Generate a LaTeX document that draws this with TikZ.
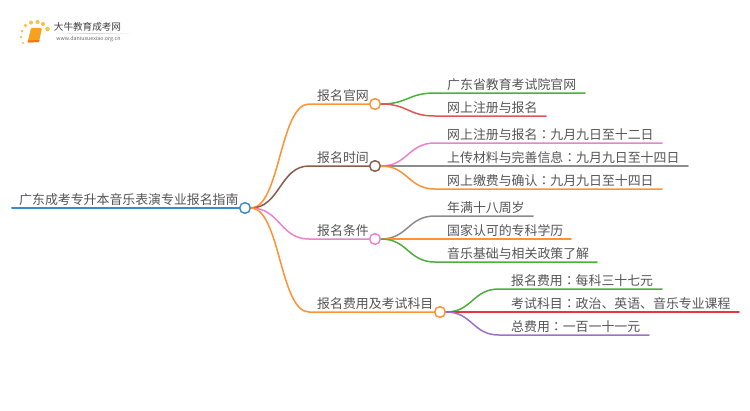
\documentclass[tikz,border=0pt]{standalone}
\usepackage{fontspec}
\setmainfont{Noto Sans CJK SC}
\newfontfamily\tcfont{Noto Sans CJK TC}
\newcommand{\cln}{{\tcfont ：}}
\usetikzlibrary{calc}
\definecolor{cblue}{HTML}{3A8BCB}
\definecolor{corange}{HTML}{FF9233}
\definecolor{cbrown}{HTML}{8D5A4E}
\definecolor{cpink}{HTML}{EB82CF}
\definecolor{cgreen}{HTML}{4CAF3E}
\definecolor{cred}{HTML}{E25555}
\definecolor{cgray}{HTML}{8C8C8C}
\definecolor{cpurple}{HTML}{A070C8}
\definecolor{crimson}{HTML}{E8343C}
\definecolor{txt}{HTML}{555555}
\definecolor{logodot}{HTML}{F9C04A}
\definecolor{logobook}{HTML}{F7A21E}
\definecolor{logoedge}{HTML}{E8791A}
\tikzset{
  lab/.style={anchor=base west,inner sep=0pt,text=txt,font=\fontsize{12.9}{13}\selectfont},
  hub/.style={circle,draw=#1,fill=white,line width=1.3pt,minimum size=10.5pt,inner sep=0pt},
  wire/.style={draw=#1,line width=1.5pt,line cap=round},
  dot/.style={circle,fill=#1,inner sep=0pt,draw=none},
}
\newcommand{\bcurve}[4]{% colour, from hub, to coordinate, end of underline
  \coordinate (mid) at ($(#2.east)!.5!(#3)$);
  \draw[wire=#1] (#2.east) .. controls (#2.east -| mid) and (#3 -| mid) .. (#3) -- (#4);}
\begin{document}
\begin{tikzpicture}[x=1pt,y=-1pt]
\useasboundingbox (0,0) rectangle (750,410);
\fill[white] (0,0) rectangle (750,410);

% logo
\foreach \i/\xx/\yy/\r in {a/23/43/1.1,b/21/37/1.3,c/22/31/1.5,d/25.5/25.5/1.8,e/31/22.5/2,f/37.5/22/2.1,g/43/24/2.1,h/47.5/29/2.3}
  \node[dot=logodot,minimum size=\r*2pt] (logo\i) at (\xx,\yy) {};
\fill[logobook,rounded corners=1pt] (31,28) -- (42,28) -- (39,42) -- (27.5,42.5) -- cycle;
\fill[logoedge] (27.5,42.5) -- (39,42) -- (39.5,40) -- (28,40.5) -- cycle;
\node[inner sep=0pt,text=black!75,font=\fontsize{9.6}{10}\selectfont] (logotitle) at (87.5,27) {大牛教育成考网};
\shade[left color=white,right color=white,middle color=black!18] (52,33) rectangle (133,33.6);
\node[inner sep=0pt,text=black!60,font=\fontsize{5.3}{6}\selectfont] (logourl) at (88.5,39) {www.daniuxuexiao.org.cn};

% anchors
\coordinate (rootl) at (12,208);
\node[hub=cblue] (root) at (245,208) {};
\node[hub=corange] (h1) at (375,104) {};
\node[hub=cbrown] (h2) at (375,166) {};
\node[hub=cpink] (h3) at (375,239) {};
\node[hub=corange] (h4) at (440,312) {};

\coordinate (b1) at (309,104); \coordinate (b2) at (309,166);
\coordinate (b3) at (309,239); \coordinate (b4) at (309,312);

% leaves: start and end of underline
\foreach \n/\xs/\xe/\yy in {a1/447/585/93,a2/447/546/116,
  b1/447/662/143,b2/447/688/166,b3/447/662/189,
  c1/447/533/216,c2/447/571/239,c3/447/597/262,
  d1/511/662/289,d2/511/739/312,d3/511/649/335}{
  \coordinate (s\n) at (\xs-12,\yy);
  \coordinate (e\n) at (\xe,\yy);
}

% connectors
\draw[wire=cblue,line width=2pt] (rootl) -- (root);
\bcurve{corange}{root}{b1}{h1}
\bcurve{cbrown}{root}{b2}{h2}
\bcurve{cpink}{root}{b3}{h3}
\bcurve{corange}{root}{b4}{h4}
\bcurve{cgreen}{h1}{sa1}{ea1}
\bcurve{cred}{h1}{sa2}{ea2}
\bcurve{cpink}{h2}{sb1}{eb1}
\bcurve{cgray}{h2}{sb2}{eb2}
\bcurve{corange}{h2}{sb3}{eb3}
\bcurve{cgray}{h3}{sc1}{ec1}
\bcurve{corange}{h3}{sc2}{ec2}
\bcurve{cgreen}{h3}{sc3}{ec3}
\bcurve{cgreen}{h4}{sd1}{ed1}
\bcurve{crimson}{h4}{sd2}{ed2}
\bcurve{cpurple}{h4}{sd3}{ed3}

% hubs redrawn over wires
\node[hub=cblue] at (root) {};
\node[hub=corange] at (h1) {};
\node[hub=cbrown] at (h2) {};
\node[hub=cpink] at (h3) {};
\node[hub=corange] at (h4) {};

% labels
\node[lab] (troot) at (19,204.5) {广东成考专升本音乐表演专业报名指南};
\node[lab] (t1) at (317,100) {报名官网};
\node[lab] (t2) at (317,162) {报名时间};
\node[lab] (t3) at (317,235) {报名条件};
\node[lab] (t4) at (317,308) {报名费用及考试科目};
\node[lab] (la1) at (447,89) {广东省教育考试院官网};
\node[lab] (la2) at (447,112) {网上注册与报名};
\node[lab] (lb1) at (447,139) {网上注册与报名\cln 九月九日至十二日};
\node[lab] (lb2) at (447,162) {上传材料与完善信息\cln 九月九日至十四日};
\node[lab] (lb3) at (447,185) {网上缴费与确认\cln 九月九日至十四日};
\node[lab] (lc1) at (447,212) {年满十八周岁};
\node[lab] (lc2) at (447,235) {国家认可的专科学历};
\node[lab] (lc3) at (447,258) {音乐基础与相关政策了解};
\node[lab] (ld1) at (511,285) {报名费用\cln 每科三十七元};
\node[lab] (ld2) at (511,308) {考试科目\cln 政治、英语、音乐专业课程};
\node[lab] (ld3) at (511,331) {总费用\cln 一百一十一元};
\end{tikzpicture}
\end{document}
